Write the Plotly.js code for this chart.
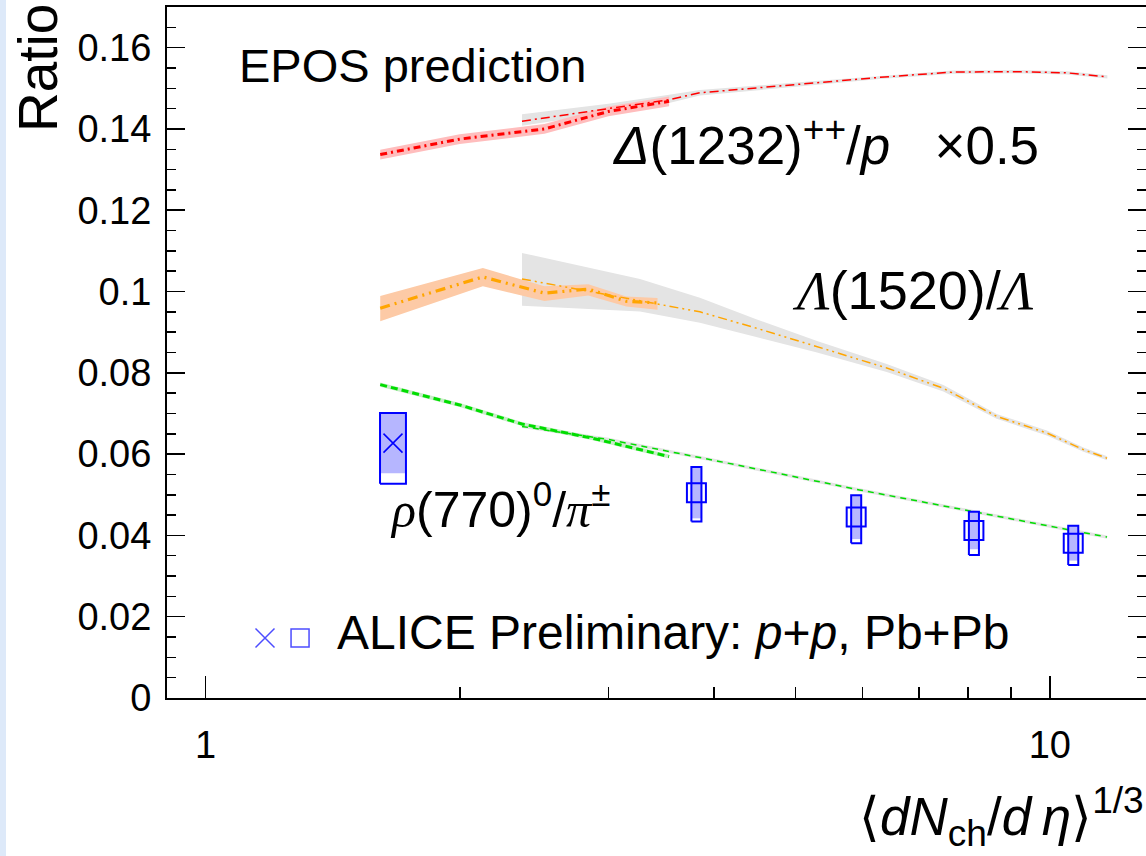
<!DOCTYPE html>
<html>
<head>
<meta charset="utf-8">
<script src="https://cdn.plot.ly/plotly-3.0.1.min.js"></script>
<style>
  html, body { margin: 0; padding: 0; }
  body { background: linear-gradient(to right, #dde9f9 6px, #ffffff 6px); }
  #chart { width: 1146px; height: 856px; }
</style>
</head>
<body>
<div id="chart"></div>
<script>
// ---------------- DATA ----------------
// Delta(1232)++/p x0.5 : EPOS p+p
const deltaPP_x  = [1.61, 2.0, 2.52, 3.0, 3.54];
const deltaPP_y  = [0.1337, 0.1375, 0.1400, 0.1443, 0.1468];
const deltaPP_lo = [0.1325, 0.1363, 0.1388, 0.1431, 0.1456];
const deltaPP_hi = [0.1349, 0.1387, 0.1412, 0.1455, 0.1480];
// Delta(1232)++/p x0.5 : EPOS Pb+Pb
const deltaPb_x  = [2.37, 3.0, 3.54, 3.85, 5.0, 6.29, 7.68, 9.14, 10.48, 11.7];
const deltaPb_y  = [0.1419, 0.1450, 0.1472, 0.1489, 0.1509, 0.1527, 0.1540, 0.1541, 0.1538, 0.1528];
const deltaPb_lo = [0.1408, 0.1440, 0.1464, 0.1482, 0.1504, 0.1523, 0.1536, 0.1537, 0.1534, 0.1524];
const deltaPb_hi = [0.1436, 0.1462, 0.1484, 0.1496, 0.1514, 0.1531, 0.1544, 0.1545, 0.1542, 0.1532];

// Lambda(1520)/Lambda : EPOS p+p
const lambdaPP_x  = [1.61, 2.13, 2.52, 2.84, 3.15, 3.43];
const lambdaPP_y  = [0.0959, 0.1036, 0.0996, 0.1006, 0.0976, 0.0972];
const lambdaPP_lo = [0.0927, 0.1013, 0.0977, 0.0990, 0.0963, 0.0955];
const lambdaPP_hi = [0.0989, 0.1058, 0.1013, 0.1018, 0.0988, 0.0984];
// Lambda(1520)/Lambda : EPOS Pb+Pb
const lambdaPb_x  = [2.37, 3.27, 3.85, 4.49, 5.3, 6.41, 7.48, 8.65, 9.92, 10.96, 11.69];
const lambdaPb_y  = [0.1031, 0.0978, 0.0950, 0.0910, 0.0864, 0.0812, 0.0762, 0.0693, 0.0652, 0.0611, 0.0590];
const lambdaPb_lo = [0.0965, 0.0951, 0.0923, 0.0888, 0.0850, 0.0802, 0.0754, 0.0687, 0.0646, 0.0606, 0.0585];
const lambdaPb_hi = [0.1095, 0.1031, 0.0985, 0.0932, 0.0878, 0.0822, 0.0770, 0.0699, 0.0658, 0.0616, 0.0595];

// rho(770)0/pi : EPOS p+p
const rhoPP_x  = [1.61, 2.0, 2.37, 2.874, 3.54];
const rhoPP_y  = [0.0771, 0.0721, 0.0674, 0.0639, 0.0594];
const rhoPP_lo = [0.0766, 0.0716, 0.0669, 0.0634, 0.0589];
const rhoPP_hi = [0.0776, 0.0726, 0.0679, 0.0644, 0.0599];
// rho(770)0/pi : EPOS Pb+Pb
const rhoPb_x  = [2.37, 3.0, 4.06, 5.95, 8.73, 11.69];
const rhoPb_y  = [0.0668, 0.0636, 0.0582, 0.0512, 0.0446, 0.0396];
const rhoPb_lo = [0.0664, 0.0632, 0.0578, 0.0508, 0.0442, 0.0392];
const rhoPb_hi = [0.0672, 0.0640, 0.0586, 0.0516, 0.0450, 0.0400];

// ALICE Preliminary rho0/pi : p+p
const alicePP_x = [1.667];
const alicePP_y = [0.0627];
const alicePP_sysUncorr = [0.0074];   // shaded box half-height
const alicePP_sysTotLow = [0.0100];   // outlined box lower extent
const alicePP_sysTotHigh = [0.0074];  // outlined box upper extent
// ALICE Preliminary rho0/pi : Pb+Pb
const alicePb_x = [3.814, 5.897, 8.13, 10.66];
const alicePb_y = [0.0505, 0.0445, 0.0412, 0.0381];
const alicePb_sysUncorr = [0.0063, 0.0054, 0.0046, 0.0043];
const alicePb_sysTotLow = [0.0071, 0.0064, 0.0060, 0.0054];
const alicePb_sysTotHigh = [0.0063, 0.0054, 0.0046, 0.0043];

// Tick labels
const xTickVals = [1, 10];
const xTickText = ['1', '10'];

// ---------------- STYLE ----------------
const FONT = 'Liberation Sans, Arial, Helvetica, sans-serif';
const SERIF = 'Liberation Serif, Times New Roman, serif';
const RED = '#ff0000', PINK = '#ffbdbd';
const ORANGE = '#ffa500', PEACH = '#fdcaa6';
const GREEN = '#00dd00', LIGHTGREEN = '#c8ecc8';
const GRAY = '#e4e4e4';
const BLUE = '#0000ff', BLUEFILL = '#b6b6ff';
const BOX_HALF_PP = 1.036;   // multiplicative half-width of sys box on log axis
const BOX_HALF_PB = 1.0138;

function band(xs, lo, hi, color) {
  return {
    type: 'scatter', mode: 'lines', hoverinfo: 'skip', showlegend: false,
    x: xs.concat(xs.slice().reverse()),
    y: hi.concat(lo.slice().reverse()),
    fill: 'toself', fillcolor: color, line: { width: 0, color: color }
  };
}
function curve(xs, ys, color, width, dash) {
  return {
    type: 'scatter', mode: 'lines', showlegend: false,
    x: xs, y: ys, line: { color: color, width: width, dash: dash }
  };
}
function boxes(xs, lo, hi, half, fillcolor, outline) {
  const out = [];
  for (let i = 0; i < xs.length; i++) {
    const x0 = xs[i] / half, x1 = xs[i] * half;
    out.push({
      type: 'scatter', mode: 'lines', showlegend: false, hoverinfo: 'skip',
      x: [x0, x1, x1, x0, x0],
      y: [lo[i], lo[i], hi[i], hi[i], lo[i]],
      fill: fillcolor ? 'toself' : 'none',
      fillcolor: fillcolor || 'rgba(0,0,0,0)',
      line: { width: outline ? 2 : 0, color: outline ? BLUE : 'rgba(0,0,0,0)' }
    });
  }
  return out;
}
const sub = (a, b) => a.map((v, i) => v - b[i]);
const add = (a, b) => a.map((v, i) => v + b[i]);

const traces = [
  band(deltaPb_x, deltaPb_lo, deltaPb_hi, GRAY),
  band(lambdaPb_x, lambdaPb_lo, lambdaPb_hi, GRAY),
  band(rhoPb_x, rhoPb_lo, rhoPb_hi, GRAY),
  band(deltaPP_x, deltaPP_lo, deltaPP_hi, PINK),
  band(lambdaPP_x, lambdaPP_lo, lambdaPP_hi, PEACH),
  band(rhoPP_x, rhoPP_lo, rhoPP_hi, LIGHTGREEN),
  curve(deltaPb_x, deltaPb_y, RED, 1.5, '9px,4px,2px,4px'),
  curve(lambdaPb_x, lambdaPb_y, ORANGE, 1.5, '9px,4px,2px,4px,2px,4px'),
  curve(rhoPb_x, rhoPb_y, GREEN, 1.5, '6px,5px'),
  curve(deltaPP_x, deltaPP_y, RED, 3, '7px,4px,2px,4px'),
  curve(lambdaPP_x, lambdaPP_y, ORANGE, 3.2, '10px,5px,2px,5px,2px,5px'),
  curve(rhoPP_x, rhoPP_y, GREEN, 3, '7px,4px'),
  ...boxes(alicePP_x, sub(alicePP_y, alicePP_sysUncorr), add(alicePP_y, alicePP_sysUncorr), BOX_HALF_PP, BLUEFILL, false),
  ...boxes(alicePP_x, sub(alicePP_y, alicePP_sysTotLow), add(alicePP_y, alicePP_sysTotHigh), BOX_HALF_PP, null, true),
  ...boxes(alicePb_x, sub(alicePb_y, alicePb_sysUncorr), add(alicePb_y, alicePb_sysUncorr), BOX_HALF_PB, BLUEFILL, false),
  ...boxes(alicePb_x, sub(alicePb_y, alicePb_sysTotLow), add(alicePb_y, alicePb_sysTotHigh), BOX_HALF_PB, null, true),
  {
    type: 'scatter', mode: 'markers', showlegend: false, name: 'ALICE p+p',
    x: alicePP_x, y: alicePP_y,
    marker: { symbol: 'x-thin-open', size: 19, color: BLUE, line: { color: BLUE, width: 1.5 } }
  },
  {
    type: 'scatter', mode: 'markers', showlegend: false, name: 'ALICE Pb+Pb',
    x: alicePb_x, y: alicePb_y,
    marker: { symbol: 'square-open', size: 19, color: BLUE, line: { color: BLUE, width: 2 } }
  },
  // legend keys drawn on a hidden unit overlay axis (layout positions, not data)
  {
    type: 'scatter', mode: 'markers', showlegend: false, hoverinfo: 'skip',
    xaxis: 'x2', yaxis: 'y2',
    x: [0.1001, 0.1359], y: [0.0868, 0.0868],
    marker: { symbol: ['x-thin-open', 'square-open'], size: [19, 18], color: BLUE,
              line: { color: BLUE, width: [1.5, 1.5] } }
  }
];

const axisCommon = {
  showline: true, linecolor: '#000', linewidth: 2,
  showgrid: false, zeroline: false,
  ticks: 'inside', tickcolor: '#000', tickwidth: 1.5,
  tickfont: { family: FONT, size: 38, color: '#000' }
};

const layout = {
  width: 1146, height: 856,
  margin: { l: 167, r: 0, t: 7, b: 158 },
  paper_bgcolor: 'rgba(0,0,0,0)', plot_bgcolor: '#ffffff',
  showlegend: false,
  font: { family: FONT, color: '#000' },
  xaxis: Object.assign({}, axisCommon, {
    type: 'log', range: [Math.log10(0.9), Math.log10(13)],
    tickvals: xTickVals, ticktext: xTickText,
    ticklen: 22, mirror: true, ticklabelstandoff: 12,
    minor: { ticks: 'inside', ticklen: 11, tickwidth: 1.5, tickcolor: '#000', dtick: 'D1', showgrid: false }
  }),
  yaxis: Object.assign({}, axisCommon, {
    range: [0, 0.17], dtick: 0.02, tick0: 0,
    ticklen: 18, mirror: 'allticks', ticklabelstandoff: 6,
    minor: { ticks: 'inside', ticklen: 9, tickwidth: 1.5, tickcolor: '#000', dtick: 0.005, showgrid: false }
  }),
  xaxis2: { overlaying: 'x', range: [0, 1], visible: false, fixedrange: true },
  yaxis2: { overlaying: 'y', range: [0, 1], visible: false, fixedrange: true },
  annotations: [
    { text: 'Ratio', textangle: -90, xref: 'paper', yref: 'paper', x: -0.1318, y: 0.9117,
      xanchor: 'center', yanchor: 'middle', showarrow: false, font: { size: 55 } },
    { text: '\u27E8<i>dN</i><sub>ch</sub>/<i>d\u2009\u03B7</i>\u27E9<sup>1/3</sup>',
      xref: 'paper', yref: 'paper', x: 1.0, y: -0.172, xanchor: 'right', yanchor: 'middle',
      showarrow: false, font: { size: 53 } },
    { text: 'EPOS prediction', xref: 'paper', yref: 'paper', x: 0.0715, y: 0.916,
      xanchor: 'left', yanchor: 'middle', showarrow: false, font: { size: 47 } },
    { text: '<i>\u0394</i>(1232)<sup>++</sup>/<i>p</i>\u00A0\u00A0\u00A0\u00D70.5',
      xref: 'paper', yref: 'paper', x: 0.4525, y: 0.806, xanchor: 'left', yanchor: 'middle',
      showarrow: false, font: { size: 53 } },
    { text: '<span style="font-family:' + SERIF + '"><i>\u039B</i></span>(1520)/<span style="font-family:' + SERIF + '"><i>\u039B</i></span>',
      xref: 'paper', yref: 'paper', x: 0.6364, y: 0.5904, xanchor: 'left', yanchor: 'middle',
      showarrow: false, font: { size: 54 } },
    { text: '<span style="font-family:' + SERIF + '"><i>\u03C1</i></span>(770)<sup>0</sup>/<span style="font-family:' + SERIF + '"><i>\u03C0</i></span><sup>\u00B1</sup>',
      xref: 'paper', yref: 'paper', x: 0.2257, y: 0.278, xanchor: 'left', yanchor: 'middle',
      showarrow: false, font: { size: 50 } },
    { text: 'ALICE Preliminary: <i>p</i>+<i>p</i>, Pb+Pb',
      xref: 'paper', yref: 'paper', x: 0.1716, y: 0.0955, xanchor: 'left', yanchor: 'middle',
      showarrow: false, font: { size: 48 } }
  ]
};

Plotly.newPlot('chart', traces, layout, { displayModeBar: false, staticPlot: true });
</script>
</body>
</html>
